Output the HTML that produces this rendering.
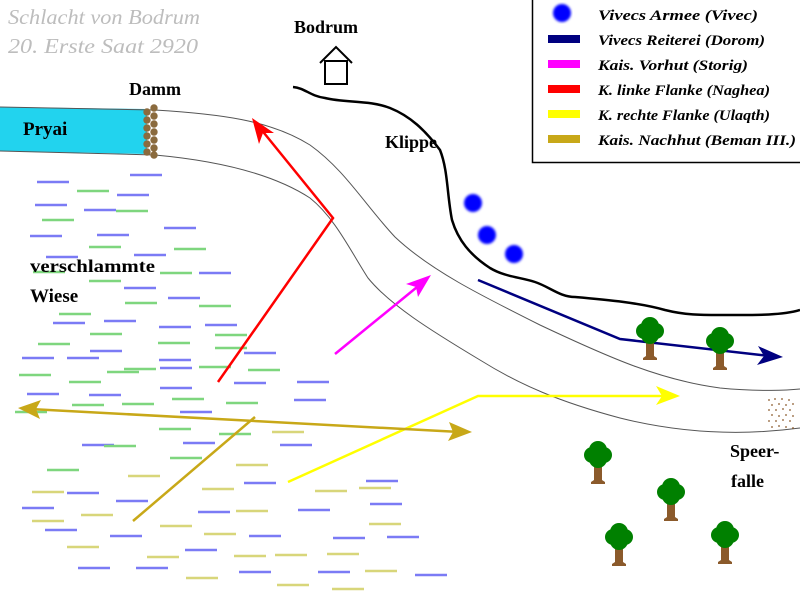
<!DOCTYPE html>
<html><head><meta charset="utf-8"><style>
html,body{margin:0;padding:0;background:#fff;}
svg{display:block;}
text{font-family:"Liberation Serif",serif;}
</style></head><body>
<svg width="800" height="600" viewBox="0 0 800 600" xmlns="http://www.w3.org/2000/svg">
<defs>
<g id="tree">
<path d="M-4,8 L-4,25 L-7,27 L-7,29 L7,29 L7,27 L4,25 L4,8 Z" fill="#8b5a2b"/>
<circle cx="-6" cy="0" r="8" fill="#008000"/><circle cx="6" cy="0" r="8" fill="#008000"/>
<circle cx="0" cy="-5" r="9" fill="#008000"/><circle cx="0" cy="4" r="9" fill="#008000"/>
</g>
<filter id="bl"><feGaussianBlur stdDeviation="1.3"/></filter>
</defs>
<rect width="800" height="600" fill="#fff"/>

<text x="8" y="24" font-size="21" font-style="italic" fill="#bdbdbd" textLength="192" lengthAdjust="spacingAndGlyphs">Schlacht von Bodrum</text>
<text x="8" y="53" font-size="21" font-style="italic" fill="#bdbdbd" textLength="190" lengthAdjust="spacingAndGlyphs">20. Erste Saat 2920</text>

<text x="294" y="33" font-size="18" font-weight="bold" fill="#000">Bodrum</text>
<path d="M320,63 L336,47 L352,63" fill="none" stroke="#000" stroke-width="2"/>
<rect x="325" y="61" width="22" height="23" fill="none" stroke="#000" stroke-width="2"/>

<text x="129" y="95" font-size="18" font-weight="bold" fill="#000">Damm</text>

<path d="M0,107 L147,109 L147,154 L0,151 Z" fill="#22d3ee"/>
<text x="23" y="135" font-size="19" font-weight="bold" fill="#000">Pryai</text>

<path d="M0,107 L155,110 C220,114 270,120 310,145 C345,170 365,205 395,237 C430,270 480,295 540,325 C610,358 660,380 720,388 C760,392 790,390 800,389" fill="none" stroke="#555" stroke-width="1"/>
<path d="M0,151 L155,155 C210,160 270,172 310,198 C335,218 350,250 368,278 C390,305 430,330 480,360 C520,385 560,402 620,418 C680,433 740,436 800,428" fill="none" stroke="#555" stroke-width="1"/>

<g fill="#8b6b3e">
<circle cx="147" cy="112" r="3.7"/><circle cx="147" cy="120" r="3.7"/><circle cx="147" cy="128" r="3.7"/><circle cx="147" cy="136" r="3.7"/><circle cx="147" cy="144" r="3.7"/><circle cx="147" cy="152" r="3.7"/>
<circle cx="154" cy="108" r="3.7"/><circle cx="154" cy="116" r="3.7"/><circle cx="154" cy="124" r="3.7"/><circle cx="154" cy="132" r="3.7"/><circle cx="154" cy="140" r="3.7"/><circle cx="154" cy="148" r="3.7"/><circle cx="154" cy="155" r="3.7"/>
</g>

<path d="M293,87 C305,88 310,96 325,98 C345,103 370,100 390,108 C410,116 425,130 440,150 C448,170 447,195 452,220 C458,240 470,255 490,268 C505,277 520,277 535,282 C550,287 560,297 575,297 C610,300 640,303 665,310 C685,315 700,315 720,315 C750,315 780,316 800,310" fill="none" stroke="#000" stroke-width="2.5"/>
<text x="385" y="148" font-size="18" font-weight="bold" fill="#000">Klippe</text>

<g stroke="#7b7bf5" stroke-width="2.5">
<path d="M37,182h32M130,175h32M117,195h32M35,205h32M84,210h32M30,236h32M97,235h32M164,228h32M134,255h32M46,257h32M199,273h32M124,288h32M168,298h32M53,323h32M104,321h32M159,327h32M205,325h32M90,351h32M67,358h32M159,360h32M244,353h32M22,358h32M27,394h32M160,368h32M89,395h32M234,383h32M160,388h32M297,382h32M294,400h32M180,412h32M82,445h32M183,443h32M280,445h32M244,483h32M67,493h32M22,508h32M116,501h32M198,512h32M45,530h32M110,536h32M366,481h32M370,504h32M298,510h32M249,536h32M185,550h32M333,538h32M387,537h32M78,568h32M136,568h32M239,572h32M318,572h32M415,575h32"/>
</g>
<g stroke="#7ed67e" stroke-width="2.5">
<path d="M77,191h32M116,211h32M42,220h32M89,247h32M174,249h32M33,272h32M89,281h32M160,273h32M125,303h32M199,306h32M59,314h32M90,334h32M38,344h32M158,343h32M215,335h32M215,348h32M19,375h32M69,382h32M107,372h32M199,367h32M248,370h32M72,405h32M122,404h32M226,403h32M159,429h32M219,434h32M104,446h32M170,458h32M47,470h32M15,412h32M124,369h32M172,399h32"/>
</g>
<g stroke="#d8d67a" stroke-width="2.5">
<path d="M272,432h32M236,465h32M128,476h32M202,489h32M32,492h32M315,491h32M359,488h32M81,515h32M32,521h32M236,511h32M160,526h32M204,534h32M369,524h32M67,547h32M147,557h32M234,556h32M275,555h32M327,554h32M186,578h32M277,585h32M365,571h32M332,589h32"/>
</g>
<text x="30" y="272" font-size="18" font-weight="bold" fill="#000" textLength="125" lengthAdjust="spacingAndGlyphs">verschlammte</text>
<text x="30" y="302" font-size="19" font-weight="bold" fill="#000">Wiese</text>

<g fill="#0000ff" filter="url(#bl)">
<circle cx="473" cy="203" r="9"/><circle cx="487" cy="235" r="9"/><circle cx="514" cy="254" r="9"/>
</g>

<polyline points="478,280 620,339 770,356" fill="none" stroke="#000080" stroke-width="2.5"/>
<path d="M783,357 L758,346 L764,356 L757,365 Z" fill="#000080"/>

<line x1="335" y1="354" x2="422" y2="283" stroke="#ff00ff" stroke-width="2.5"/>
<path d="M431,275 L406,284 L416,287 L418,297 Z" fill="#ff00ff"/>

<polyline points="218,382 333,218 260,128" fill="none" stroke="#ff0000" stroke-width="2.5"/>
<path d="M252,118 L259,144 L263,133 L274,133 Z" fill="#ff0000"/>

<polyline points="288,482 478,396 668,396" fill="none" stroke="#ffff00" stroke-width="2.5"/>
<path d="M680,396 L656,386 L662,396 L656,405 Z" fill="#ffff00"/>

<line x1="30" y1="409" x2="460" y2="432" stroke="#c8a818" stroke-width="2.5"/>
<path d="M18,408 L41,400 L36,409 L40,419 Z" fill="#c8a818"/>
<path d="M472,432 L449,422 L453,432 L448,441 Z" fill="#c8a818"/>
<line x1="255" y1="417" x2="133" y2="521" stroke="#c8a818" stroke-width="2.5"/>

<use href="#tree" x="650" y="331"/>
<use href="#tree" x="720" y="341"/>
<use href="#tree" x="598" y="455"/>
<use href="#tree" x="671" y="492"/>
<use href="#tree" x="619" y="537"/>
<use href="#tree" x="725" y="535"/>

<g fill="#8b5a2b">
<circle cx="769" cy="400" r=".9"/><circle cx="775" cy="399" r=".9"/><circle cx="782" cy="399" r=".9"/><circle cx="789" cy="400" r=".9"/>
<circle cx="772" cy="405" r=".9"/><circle cx="779" cy="404" r=".9"/><circle cx="786" cy="405" r=".9"/><circle cx="793" cy="404" r=".9"/>
<circle cx="769" cy="410" r=".9"/><circle cx="776" cy="410" r=".9"/><circle cx="783" cy="409" r=".9"/><circle cx="790" cy="410" r=".9"/>
<circle cx="772" cy="415" r=".9"/><circle cx="779" cy="416" r=".9"/><circle cx="786" cy="415" r=".9"/><circle cx="793" cy="416" r=".9"/>
<circle cx="769" cy="421" r=".9"/><circle cx="776" cy="421" r=".9"/><circle cx="783" cy="420" r=".9"/><circle cx="790" cy="421" r=".9"/>
<circle cx="772" cy="427" r=".9"/><circle cx="779" cy="426" r=".9"/><circle cx="786" cy="427" r=".9"/><circle cx="793" cy="428" r=".9"/>
</g>
<text x="730" y="457" font-size="18" font-weight="bold" fill="#000">Speer-</text>
<text x="731" y="487" font-size="18" font-weight="bold" fill="#000">falle</text>

<path d="M532.5,0 V162.5 H800" fill="none" stroke="#000" stroke-width="1.5"/>
<circle cx="562" cy="13" r="9" fill="#0000ff" filter="url(#bl)"/>
<rect x="548" y="35" width="32" height="8" fill="#000080"/>
<rect x="548" y="60" width="32" height="8" fill="#ff00ff"/>
<rect x="548" y="85" width="32" height="8" fill="#ff0000"/>
<rect x="548" y="110" width="32" height="8" fill="#ffff00"/>
<rect x="548" y="135" width="32" height="8" fill="#c8a818"/>
<g font-size="15" font-style="italic" font-weight="bold" fill="#000" lengthAdjust="spacingAndGlyphs">
<text x="598" y="20" textLength="160" lengthAdjust="spacingAndGlyphs">Vivecs Armee (Vivec)</text>
<text x="598" y="45" textLength="167" lengthAdjust="spacingAndGlyphs">Vivecs Reiterei (Dorom)</text>
<text x="598" y="70" textLength="150" lengthAdjust="spacingAndGlyphs">Kais. Vorhut (Storig)</text>
<text x="598" y="95" textLength="172" lengthAdjust="spacingAndGlyphs">K. linke Flanke (Naghea)</text>
<text x="598" y="120" textLength="172" lengthAdjust="spacingAndGlyphs">K. rechte Flanke (Ulaqth)</text>
<text x="598" y="145" textLength="198" lengthAdjust="spacingAndGlyphs">Kais. Nachhut (Beman III.)</text>
</g>
</svg>
</body></html>
